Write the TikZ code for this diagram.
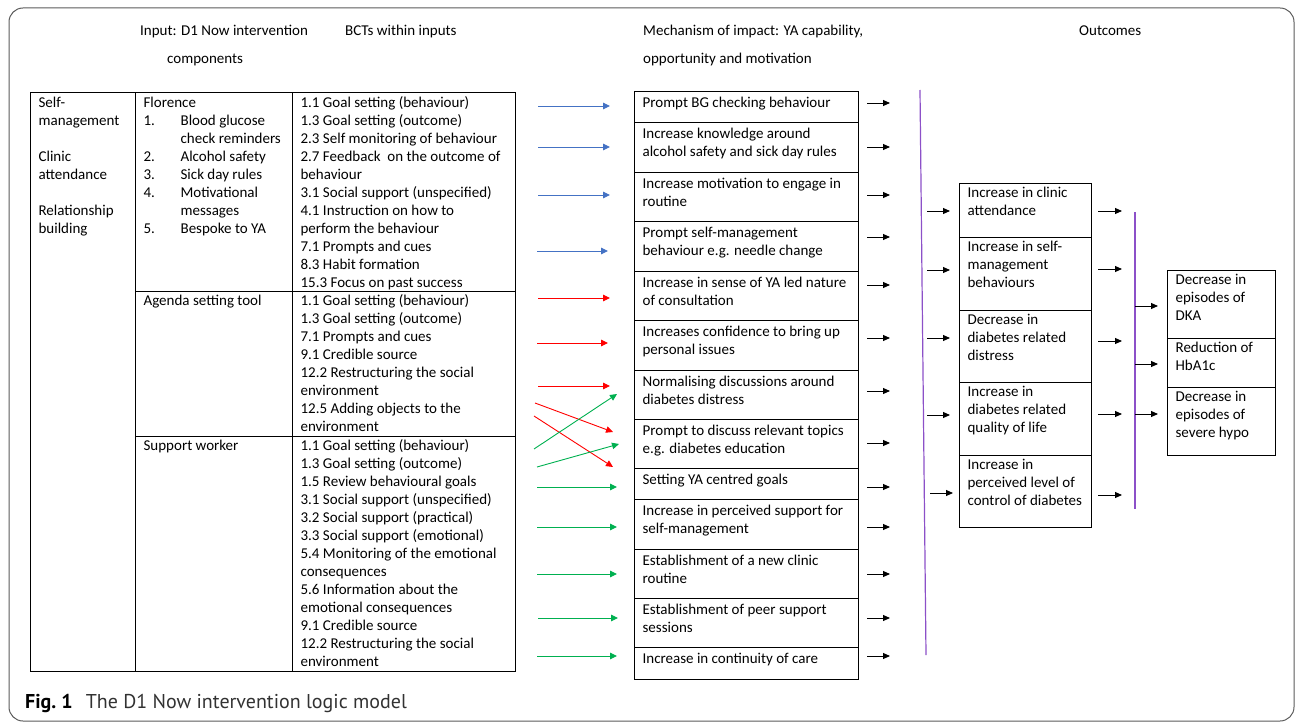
\documentclass[tikz,border=0pt]{standalone}
\usepackage{fontspec}
\setmainfont{Carlito}
\newfontfamily\capfont{PT Sans}
\usetikzlibrary{arrows.meta}
\definecolor{arrblue}{RGB}{68,114,196}
\definecolor{arrred}{RGB}{255,0,0}
\definecolor{arrgreen}{RGB}{0,176,80}
\definecolor{purp}{RGB}{140,80,200}
\definecolor{framegray}{RGB}{90,90,90}
\definecolor{capgray}{RGB}{50,50,50}
% width, height, first-baseline offset, text
\newcommand\bxc[4]{\parbox[t][#2pt][t]{#1pt}{\leftskip=8pt\rightskip=0pt plus 1fil\parfillskip=0pt plus 1fil\relax\rule{0pt}{#3pt}#4}}
\tikzset{
  bodytext/.style={font=\fontsize{15}{18}\selectfont},
  cellbox/.style={draw, line width=1.2pt, anchor=north west, inner sep=0pt, bodytext},
  head/.style={anchor=base west, inner sep=0pt, bodytext},
  arr/.style={line width=0.9pt, -{Triangle[length=7pt,width=6.5pt]}},
  blk/.style={line width=0.9pt, -{Triangle[length=7pt,width=6pt]}, black},
  pline/.style={line width=1.2pt, purp},
}
\begin{document}
\begin{tikzpicture}[x=1pt,y=-1pt]
\useasboundingbox (0,0) rectangle (1295,722);
\draw[framegray, line width=1pt, rounded corners=14pt] (9,8) rectangle (1294,721);

% headers
\node[head] (h1) at (140,36) {Input: D1 Now intervention};
\node[head] (h1b) at (167,63.5) {components};
\node[head] (h2) at (345,36) {BCTs within inputs};
\node[head] (h3) at (643,36) {Mechanism of impact: YA capability,};
\node[head] (h3b) at (643,63.5) {opportunity and motivation};
\node[head] (h4) at (1079,36) {Outcomes};

% table
\node[cellbox] (c1) at (30,92) {\bxc{105}{579}{15}{Self-\\management\\[18pt]Clinic\\attendance\\[18pt]Relationship\\building}};
\node[cellbox] (c2a) at (135,92) {\bxc{157}{199}{15}{Florence\\
\makebox[37pt][l]{1.}Blood glucose\\\hspace*{37pt}check reminders\\
\makebox[37pt][l]{2.}Alcohol safety\\
\makebox[37pt][l]{3.}Sick day rules\\
\makebox[37pt][l]{4.}Motivational\\\hspace*{37pt}messages\\
\makebox[37pt][l]{5.}Bespoke to YA}};
\node[cellbox] (c2b) at (135,291) {\bxc{157}{145}{14}{Agenda setting tool}};
\node[cellbox] (c2c) at (135,436) {\bxc{157}{235}{14}{Support worker}};
\node[cellbox] (c3a) at (292,92) {\bxc{223}{199}{15}{1.1 Goal setting (behaviour)\\
1.3 Goal setting (outcome)\\
2.3 Self monitoring of behaviour\\
2.7 Feedback\ \ on the outcome of\\
behaviour\\
3.1 Social support (unspecified)\\
4.1 Instruction on how to\\
perform the behaviour\\
7.1 Prompts and cues\\
8.3 Habit formation\\
15.3 Focus on past success}};
\node[cellbox] (c3b) at (292,291) {\bxc{223}{145}{14}{1.1 Goal setting (behaviour)\\
1.3 Goal setting (outcome)\\
7.1 Prompts and cues\\
9.1 Credible source\\
12.2 Restructuring the social\\
environment\\
12.5 Adding objects to the\\
environment}};
\node[cellbox] (c3c) at (292,436) {\bxc{223}{235}{14}{1.1 Goal setting (behaviour)\\
1.3 Goal setting (outcome)\\
1.5 Review behavioural goals\\
3.1 Social support (unspecified)\\
3.2 Social support (practical)\\
3.3 Social support (emotional)\\
5.4 Monitoring of the emotional\\
consequences\\
5.6 Information about the\\
emotional consequences\\
9.1 Credible source\\
12.2 Restructuring the social\\
environment}};

% mechanism boxes
\node[cellbox] (m1) at (634,91) {\bxc{224}{31}{15.5}{Prompt BG checking behaviour}};
\node[cellbox] (m2) at (634,122) {\bxc{224}{50}{15.5}{Increase knowledge around\\alcohol safety and sick day rules}};
\node[cellbox] (m3) at (634,172) {\bxc{224}{49}{15.5}{Increase motivation to engage in\\routine}};
\node[cellbox] (m4) at (634,221) {\bxc{224}{50}{15.5}{Prompt self-management\\behaviour e.g. needle change}};
\node[cellbox] (m5) at (634,271) {\bxc{224}{49}{15.5}{Increase in sense of YA led nature\\of consultation}};
\node[cellbox] (m6) at (634,320) {\bxc{224}{50}{15.5}{Increases confidence to bring up\\personal issues}};
\node[cellbox] (m7) at (634,370) {\bxc{224}{49}{15.5}{Normalising discussions around\\diabetes distress}};
\node[cellbox] (m8) at (634,419) {\bxc{224}{49}{15.5}{Prompt to discuss relevant topics\\e.g. diabetes education}};
\node[cellbox] (m9) at (634,468) {\bxc{224}{31}{15.5}{Setting YA centred goals}};
\node[cellbox] (m10) at (634,499) {\bxc{224}{50}{15.5}{Increase in perceived support for\\self-management}};
\node[cellbox] (m11) at (634,549) {\bxc{224}{49}{15.5}{Establishment of a new clinic\\routine}};
\node[cellbox] (m12) at (634,598) {\bxc{224}{49}{15.5}{Establishment of peer support\\sessions}};
\node[cellbox] (m13) at (634,647) {\bxc{224}{32}{15.5}{Increase in continuity of care}};

% outcome boxes
\node[cellbox] (o1) at (959,183) {\bxc{132}{54}{13.5}{Increase in clinic\\attendance}};
\node[cellbox] (o2) at (959,237) {\bxc{132}{73}{13.5}{Increase in self-\\management\\behaviours}};
\node[cellbox] (o3) at (959,310) {\bxc{132}{72}{13.5}{Decrease in\\diabetes related\\distress}};
\node[cellbox] (o4) at (959,382) {\bxc{132}{73}{13.5}{Increase in\\diabetes related\\quality of life}};
\node[cellbox] (o5) at (959,455) {\bxc{132}{72}{13.5}{Increase in\\perceived level of\\control of diabetes}};

% final outcomes
\node[cellbox] (f1) at (1167,270) {\bxc{108}{68}{13.5}{Decrease in\\episodes of\\DKA}};
\node[cellbox] (f2) at (1167,338) {\bxc{108}{49}{13.5}{Reduction of\\HbA1c}};
\node[cellbox] (f3) at (1167,387) {\bxc{108}{68}{13.5}{Decrease in\\episodes of\\severe hypo}};

% coloured arrows from BCTs to mechanisms
\foreach \sx/\sy/\ex/\ey/\cc [count=\i] in {
  538/106/610/106/arrblue, 538/147/610/147/arrblue, 538/195/610/195/arrblue, 537/251/608/251/arrblue,
  538/298/610/298/arrred, 537/343/608/343/arrred, 538/386/610/386/arrred,
  535/403/613/432/arrred, 534/416/613/467/arrred,
  534/449/617/394/arrgreen, 537/467/619/444/arrgreen,
  537/487/617/487/arrgreen, 537/527/617/527/arrgreen, 537/574/617/574/arrgreen,
  538/618/618/618/arrgreen, 537/656/617/656/arrgreen}{
  \coordinate (ca\i) at (\sx,\sy);
  \coordinate (cb\i) at (\ex,\ey);
  \draw[arr, color=\cc] (ca\i) -- (cb\i);
}

% black arrows out of mechanisms
\foreach \y [count=\i] in {103,147,195,237,285,338,391,443,487,527,574,618,656}{
  \coordinate (ka\i) at (867,\y);
  \coordinate (kb\i) at (890,\y);
  \draw[blk] (ka\i) -- (kb\i);
}

% purple collector lines
\coordinate (p1a) at (920,90);
\coordinate (p1b) at (926,655);
\draw[pline] (p1a) -- (p1b);
\coordinate (p2a) at (1135,212);
\coordinate (p2b) at (1135,509);
\draw[pline] (p2a) -- (p2b);

% arrows into outcome boxes
\foreach \sx/\y [count=\i] in {927/211,927/270,927/338,927/415,930/493}{
  \coordinate (ia\i) at (\sx,\y);
  \coordinate (ib\i) at (\sx+23,\y);
  \draw[blk] (ia\i) -- (ib\i);
}
% arrows out of outcome boxes
\foreach \y [count=\i] in {211,269,341,414,495}{
  \coordinate (oa\i) at (1098,\y);
  \coordinate (ob\i) at (1122,\y);
  \draw[blk] (oa\i) -- (ob\i);
}
% arrows into final boxes
\foreach \y [count=\i] in {306,364,414}{
  \coordinate (fa\i) at (1135,\y);
  \coordinate (fb\i) at (1158,\y);
  \draw[blk] (fa\i) -- (fb\i);
}

% caption
\node[anchor=base west, inner sep=0pt, font=\capfont\fontsize{20}{24}\selectfont] (cap) at (25,708) {\textbf{Fig.\ 1}\hspace{13pt}\textcolor{capgray}{The D1 Now intervention logic model}};
\end{tikzpicture}
\end{document}
